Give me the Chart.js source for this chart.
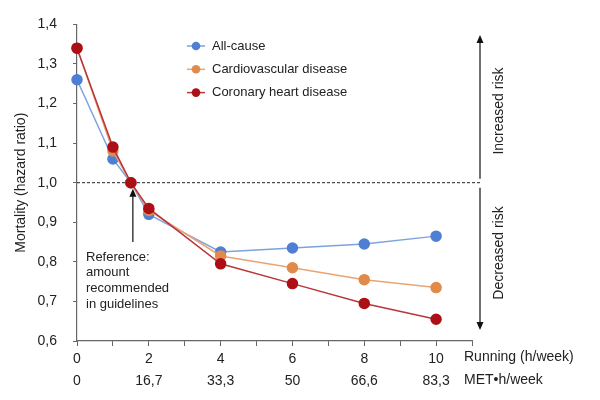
<!DOCTYPE html>
<html>
<head>
<meta charset="utf-8">
<script src="https://cdn.jsdelivr.net/npm/chart.js@4.4.1/dist/chart.umd.min.js"></script>
<style>
  body { margin: 0; background: #fff; }
  #wrap { width: 600px; height: 400px; position: relative; }
</style>
</head>
<body>
<div id="wrap"><canvas id="mortalityChart"></canvas></div>
<script>
// Running hours per week (x positions) and MET-h/week labels
const runningHours = [0, 1, 1.5, 2, 4, 6, 8, 10];
const runTickLabels = ['0', '2', '4', '6', '8', '10'];
const metTickLabels = ['0', '16,7', '33,3', '50', '66,6', '83,3'];

// Hazard ratios
const allCause = [1.26, 1.06, 1.00, 0.92, 0.825, 0.835, 0.845, 0.865];
const cardiovascular = [1.34, 1.08, 1.00, 0.93, 0.815, 0.785, 0.755, 0.735];
const coronary = [1.34, 1.09, 1.00, 0.935, 0.795, 0.745, 0.695, 0.655];

const seriesNames = ['All-cause', 'Cardiovascular disease', 'Coronary heart disease'];
const referenceLevel = 1.0;
const referenceHours = 1.5;

const FONT = '"Liberation Sans", Arial, sans-serif';
const TEXT = '#222';
const AXIS = '#666';

function toPoints(values) {
    return values.map((v, i) => ({ x: runningHours[i], y: v }));
}

function makeDataset(label, values, line, dot, order) {
    return {
        label: label,
        data: toPoints(values),
        borderColor: line,
        backgroundColor: dot,
        pointBackgroundColor: dot,
        pointBorderColor: dot,
        pointRadius: 5,
        pointHoverRadius: 5,
        borderWidth: 1.5,
        tension: 0,
        clip: false,
        order: order
    };
}

function arrowHead(ctx, x, y, dir) {
    // dir = -1 points up, 1 points down
    ctx.beginPath();
    ctx.moveTo(x, y);
    ctx.lineTo(x - 3.5, y - dir * 8);
    ctx.lineTo(x + 3.5, y - dir * 8);
    ctx.closePath();
    ctx.fill();
}

// Reference line, arrows, notes and legend drawn on top of the scales
const decorations = {
    id: 'decorations',
    beforeDatasetsDraw(chart) {
        const ctx = chart.ctx;
        const yPix = chart.scales.y.getPixelForValue(referenceLevel);
        ctx.save();
        ctx.strokeStyle = '#222';
        ctx.lineWidth = 1;
        ctx.setLineDash([3, 2]);
        ctx.beginPath();
        ctx.moveTo(chart.chartArea.left, yPix);
        ctx.lineTo(480, yPix);
        ctx.stroke();
        ctx.restore();
    },
    afterDraw(chart) {
        const ctx = chart.ctx;
        const x = chart.scales.x;
        const y = chart.scales.y;
        const yRef = y.getPixelForValue(referenceLevel);
        ctx.save();
        ctx.strokeStyle = '#111';
        ctx.fillStyle = '#111';
        ctx.lineWidth = 1.2;

        // right-hand risk arrows
        ctx.beginPath();
        ctx.moveTo(480, yRef - 4);
        ctx.lineTo(480, 40);
        ctx.moveTo(480, yRef + 5);
        ctx.lineTo(480, 325);
        ctx.stroke();
        arrowHead(ctx, 480, 35, -1);
        arrowHead(ctx, 480, 330, 1);

        ctx.font = '14px ' + FONT;
        ctx.fillStyle = TEXT;
        ctx.textAlign = 'center';
        ctx.textBaseline = 'middle';
        ctx.save();
        ctx.translate(499, 111);
        ctx.rotate(-Math.PI / 2);
        ctx.fillText('Increased risk', 0, 0);
        ctx.restore();
        ctx.save();
        ctx.translate(499, 253);
        ctx.rotate(-Math.PI / 2);
        ctx.fillText('Decreased risk', 0, 0);
        ctx.restore();

        // reference arrow at guideline amount
        const xr = x.getPixelForValue(referenceHours) + 2;
        ctx.fillStyle = '#111';
        ctx.beginPath();
        ctx.moveTo(xr, 242);
        ctx.lineTo(xr, yRef + 12);
        ctx.stroke();
        arrowHead(ctx, xr, yRef + 6, -1);

        ctx.fillStyle = TEXT;
        ctx.font = '13px ' + FONT;
        ctx.textAlign = 'left';
        ['Reference:', 'amount', 'recommended', 'in guidelines'].forEach((t, i) => {
            ctx.fillText(t, 86, 257 + i * 15.7);
        });

        // axis names to the right of the tick rows
        ctx.font = '14px ' + FONT;
        ctx.fillText('Running (h/week)', 464, 357);
        ctx.fillText('MET\u2022h/week', 464, 380);

        // legend
        ctx.font = '13px ' + FONT;
        chart.data.datasets.forEach((ds, i) => {
            const ly = 46 + i * 23.3;
            ctx.strokeStyle = ds.borderColor;
            ctx.lineWidth = 1.5;
            ctx.beginPath();
            ctx.moveTo(187, ly);
            ctx.lineTo(205, ly);
            ctx.stroke();
            ctx.fillStyle = ds.pointBackgroundColor;
            ctx.beginPath();
            ctx.arc(196, ly, 4.3, 0, Math.PI * 2);
            ctx.fill();
            ctx.fillStyle = TEXT;
            ctx.fillText(ds.label, 212, ly);
        });
        ctx.restore();
    }
};

const ctx = document.getElementById('mortalityChart').getContext('2d');
const mortalityChart = new Chart(ctx, {
    type: 'line',
    data: {
        datasets: [
            makeDataset(seriesNames[0], allCause, '#7ea2de', '#4f7fd4', 3),
            makeDataset(seriesNames[1], cardiovascular, '#e9a571', '#e08a4c', 2),
            makeDataset(seriesNames[2], coronary, '#b8363a', '#ad0f16', 1)
        ]
    },
    options: {
        responsive: true,
        maintainAspectRatio: false,
        animation: false,
        layout: { padding: { top: 23, right: 128, left: 0, bottom: 0 } },
        plugins: {
            legend: { display: false },
            tooltip: { enabled: false }
        },
        scales: {
            x: {
                type: 'linear',
                min: 0,
                max: 11,
                afterFit: s => { s.height = 59; },
                border: { color: AXIS, width: 1.2 },
                grid: { display: true, drawOnChartArea: false, drawTicks: true, tickLength: 5, color: AXIS },
                ticks: {
                    stepSize: 1,
                    autoSkip: false,
                    maxRotation: 0,
                    padding: 2,
                    color: TEXT,
                    font: { family: FONT, size: 14, lineHeight: 1.6 },
                    callback: function(value) {
                        if (value % 2 !== 0 || value > 10) return '';
                        return [runTickLabels[value / 2], metTickLabels[value / 2]];
                    }
                }
            },
            y: {
                min: 0.6,
                max: 1.4,
                afterFit: s => { s.width = 77; },
                border: { color: AXIS, width: 1.2 },
                grid: { display: true, drawOnChartArea: false, drawTicks: true, tickLength: 4, color: AXIS },
                title: {
                    display: true,
                    text: 'Mortality (hazard ratio)',
                    color: TEXT,
                    font: { family: FONT, size: 14 },
                    padding: { top: 13, bottom: 0 }
                },
                ticks: {
                    stepSize: 0.1,
                    padding: 16,
                    color: TEXT,
                    font: { family: FONT, size: 14 },
                    callback: value => value.toFixed(1).replace('.', ',')
                }
            }
        }
    },
    plugins: [decorations]
});
</script>
</body>
</html>
